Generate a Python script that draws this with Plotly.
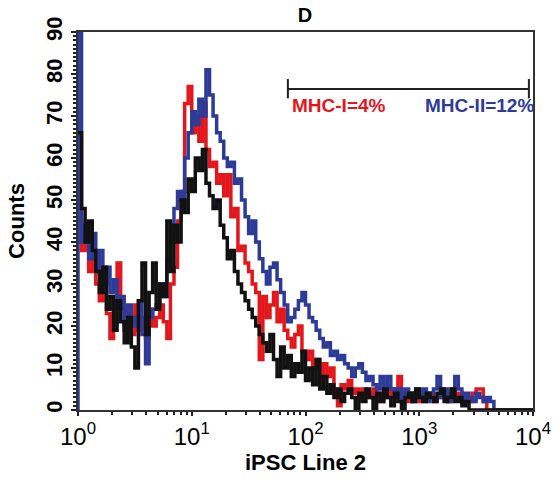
import plotly.graph_objects as go

# Instrument channel grid: 128 log channels over 4 decades
n_channels = 128
channels_per_decade = 32
channel_edges = [10 ** (i / channels_per_decade) for i in range(n_channels + 1)]

# Counts per channel
mhc1_red = [45, 45, 38, 42, 33, 36, 30, 26, 32, 23,
            17, 26, 35, 24, 20, 23, 18, 25, 19, 22,
            17, 24, 20, 22, 25, 21, 17, 30, 34, 45,
            52, 73, 77, 66, 70, 64, 73, 62, 58, 59,
            54, 56, 51, 56, 46, 48, 38, 39, 35, 33,
            30, 28, 12, 27, 22, 25, 28, 21, 24, 19,
            17, 15, 18, 20, 14, 12, 14, 10, 12, 8,
            11, 8, 10, 5, 1, 6, 5, 7, 4, 5,
            3, 5, 4, 3, 5, 4, 2, 4, 3, 5,
            4, 8, 3, 4, 2, 4, 3, 2, 4, 3,
            4, 2, 3, 4, 3, 2, 5, 3, 4, 2,
            3, 2, 4, 5, 5, 2, 0, 0, 0, 0,
            0, 0, 0, 0, 0, 0, 0, 0, 0]

mhc2_blue = [0, 90, 40, 44, 36, 42, 33, 38, 30, 34,
             28, 31, 24, 27, 19, 25, 22, 20, 26, 18,
             11, 22, 24, 25, 30, 27, 36, 40, 48, 52,
             50, 60, 66, 71, 68, 74, 70, 81, 75, 70,
             66, 64, 60, 58, 59, 54, 55, 50, 46, 42,
             45, 40, 36, 33, 30, 34, 35, 31, 28, 25,
             21, 22, 24, 26, 28, 25, 22, 21, 19, 17,
             15, 16, 13, 14, 12, 13, 11, 10, 8, 10,
             11, 9, 7, 8, 6, 5, 8, 5, 8, 5,
             3, 5, 2, 5, 4, 2, 5, 3, 5, 2,
             4, 5, 8, 3, 5, 2, 4, 8, 5, 2,
             4, 3, 2, 4, 3, 2, 3, 2, 0, 0,
             0, 0, 0, 0, 0, 0, 0, 0, 0]

control_black = [66, 66, 48, 40, 45, 38, 33, 28, 34, 24,
                 27, 19, 26, 21, 16, 22, 15, 10, 26, 35,
                 18, 28, 35, 24, 30, 27, 45, 33, 44, 40,
                 50, 47, 55, 52, 60, 57, 62, 54, 51, 48,
                 50, 44, 41, 36, 38, 33, 30, 28, 26, 24,
                 22, 20, 18, 16, 14, 18, 12, 8, 15, 10,
                 13, 8, 11, 9, 14, 7, 10, 6, 12, 5,
                 8, 4, 6, 3, 5, 2, 4, 5, 3, 0,
                 4, 2, 5, 3, 0, 4, 2, 5, 3, 1,
                 4, 2, 0, 3, 4, 2, 5, 3, 2, 4,
                 3, 2, 4, 5, 2, 3, 5, 2, 3, 1,
                 2, 0, 0, 0, 0, 0, 0, 0, 0, 0,
                 0, 0, 0, 0, 0, 0, 0, 0, 0]

decade_ticks = [1, 10, 100, 1000, 10000]
decade_labels = ["10<sup>0</sup>", "10<sup>1</sup>", "10<sup>2</sup>",
                 "10<sup>3</sup>", "10<sup>4</sup>"]
minor_ticks = [k * 10 ** d for d in range(4) for k in range(2, 10)]

# Gate marker (fluorescence bounds) and its labels
gate_lo = 70
gate_hi = 9200
gate_y = 76.4
gate_cap_lo = 74.2
gate_cap_hi = 78.8
label_red = "MHC-I=4%"
label_blue = "MHC-II=12%"

RED = "#e3161c"
BLUE = "#2c3a98"
BLACK = "#111111"
FONT = "Liberation Sans, Arial, Helvetica, sans-serif"

W, H = 556, 479

fig = go.Figure()
for vals, col in [(mhc1_red, RED), (mhc2_blue, BLUE), (control_black, BLACK)]:
    fig.add_trace(go.Scatter(x=channel_edges, y=vals, mode="lines",
                             line=dict(color=col, width=3.5, shape="vh"),
                             hoverinfo="skip"))

fig.update_layout(
    width=W, height=H,
    margin=dict(l=78, r=23, t=32, b=69),
    paper_bgcolor="white", plot_bgcolor="white",
    showlegend=False,
    font=dict(family=FONT, color="black"),
    title=dict(text="<b>D</b>", x=305 / W, xanchor="center",
               y=1 - 15 / H, yanchor="middle",
               font=dict(size=20, family=FONT, color="black")),
)

fig.update_xaxes(
    type="log", range=[0, 4], automargin=False,
    tickvals=decade_ticks, ticktext=decade_labels,
    tickfont=dict(size=24, family=FONT, color="black"),
    ticks="outside", ticklen=4, tickwidth=1.5, tickcolor="#222",
    minor=dict(tickvals=minor_ticks, ticks="outside", ticklen=3,
               tickwidth=1.5, tickcolor="#222"),
    showline=True, linecolor="#333", linewidth=1.5, mirror=True,
    showgrid=False, zeroline=False, layer="below traces",
    title=dict(text="<b>iPSC Line 2</b>",
               font=dict(size=22, family=FONT, color="black"), standoff=6),
)

fig.update_yaxes(
    range=[0, 90], dtick=10, tickangle=-90, automargin=False,
    tickfont=dict(size=22, family=FONT, color="black", weight="bold"),
    ticks="outside", ticklen=5, tickwidth=1.5, tickcolor="#222",
    minor=dict(dtick=1, ticks="outside", ticklen=3, tickwidth=1.5,
               tickcolor="#222"),
    showline=True, linecolor="#333", linewidth=1.5, mirror=True,
    showgrid=False, zeroline=False, layer="below traces",
    title=dict(text="<b>Counts</b>",
               font=dict(size=22, family=FONT, color="black"), standoff=12),
)

fig.add_shape(type="line", xref="x", yref="y",
              x0=gate_lo, x1=gate_hi, y0=gate_y, y1=gate_y,
              line=dict(color="#222", width=2))
for gx in (gate_lo, gate_hi):
    fig.add_shape(type="line", xref="x", yref="y",
                  x0=gx, x1=gx, y0=gate_cap_lo, y1=gate_cap_hi,
                  line=dict(color="#222", width=2))

fig.add_annotation(x=(290 - 78) / 455, y=72.5, xref="paper", yref="y",
                   text="<b>" + label_red + "</b>", showarrow=False,
                   xanchor="left", yanchor="middle",
                   font=dict(size=19, family=FONT, color=RED))
fig.add_annotation(x=(536 - 78) / 455, y=72.5, xref="paper", yref="y",
                   text="<b>" + label_blue + "</b>", showarrow=False,
                   xanchor="right", yanchor="middle",
                   font=dict(size=19, family=FONT, color=BLUE))

# Remove the default 8px page margin so the figure fills the window exactly.
fig.write_html("out.html",
               config={"displayModeBar": False},
               post_script="document.body.style.margin='0';"
                           "document.body.style.overflow='hidden';")
